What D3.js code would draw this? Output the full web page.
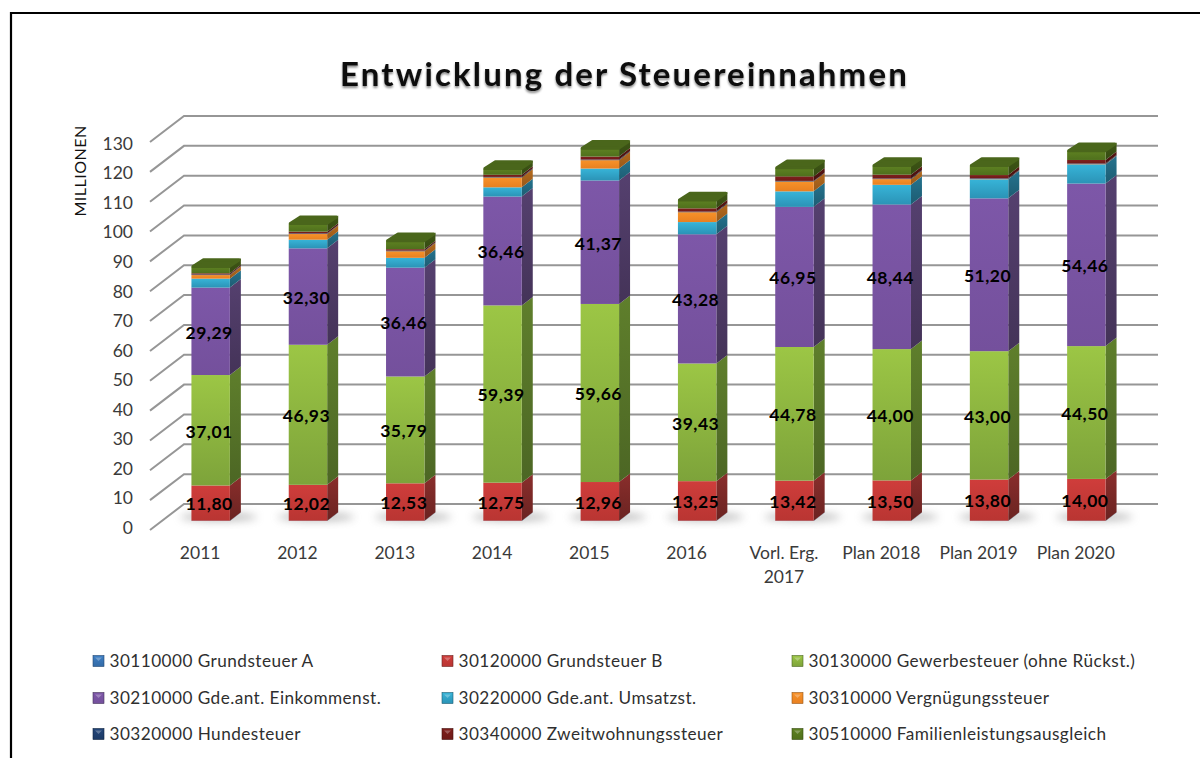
<!DOCTYPE html>
<html><head><meta charset="utf-8">
<style>html,body{margin:0;padding:0;background:#fff}svg{display:block}text{font-family:Lato,"Open Sans",sans-serif}</style>
<script src="https://cdn.jsdelivr.net/npm/d3@7"></script></head>
<body><div id="c"></div>
<script>
const categories=["2011","2012","2013","2014","2015","2016","Vorl. Erg.\n2017","Plan 2018","Plan 2019","Plan 2020"];
const grundsteuerA=[0.1,0.1,0.1,0.1,0.1,0.1,0.1,0.1,0.1,0.1];
const grundsteuerB=[11.80,12.02,12.53,12.75,12.96,13.25,13.42,13.50,13.80,14.00];
const gewerbesteuer=[37.01,46.93,35.79,59.39,59.66,39.43,44.78,44.00,43.00,44.50];
const einkommenst=[29.29,32.30,36.46,36.46,41.37,43.28,46.95,48.44,51.20,54.46];
const umsatzst=[3.0,2.9,3.3,3.1,4.0,4.1,5.2,6.6,6.4,6.4];
const vergnuegung=[1.2,1.9,2.2,3.3,2.8,3.3,3.3,1.9,0.1,0.1];
const hundesteuer=[0.2,0.2,0.2,0.2,0.2,0.2,0.2,0.2,0.2,0.2];
const zweitwohnung=[0.4,0.6,0.5,0.7,1.0,1.1,1.5,1.3,1.1,1.2];
const familien=[2.2,2.6,2.7,2.0,2.7,2.7,2.8,3.0,3.1,3.0];
const seriesNames=["30110000 Grundsteuer A","30120000 Grundsteuer B","30130000 Gewerbesteuer (ohne Rückst.)","30210000 Gde.ant. Einkommenst.","30220000 Gde.ant. Umsatzst.","30310000 Vergnügungssteuer","30320000 Hundesteuer","30340000 Zweitwohnungssteuer","30510000 Familienleistungsausgleich"];
const seriesValues=[grundsteuerA,grundsteuerB,gewerbesteuer,einkommenst,umsatzst,vergnuegung,hundesteuer,zweitwohnung,familien];
const labelled=[1,2,3];
const frontLight=["#3f7fc4","#cf3d3b","#9cc645","#7d57a8","#37b4d8","#f7922a","#23467a","#7f1f1c","#5e8122"];
const frontDark=["#336aa6","#b93532","#7da33a","#74509c","#2b93b6","#e88020","#1c3a66","#6e1a18","#4f701c"];
const sideLight=["#2a5688","#8a2e2c","#5f7f2c","#55406f","#25738e","#b56b1e","#152c4e","#591614","#3f5716"];
const sideDark=["#224670","#6a2321","#4c6624","#443358","#1d5c72","#96581a","#102340","#45110f","#354a12"];
const ticks=d3.range(0,131,10);

const W=1200,H=758;
const svg=d3.select("#c").append("svg").attr("width",W).attr("height",H);
const defs=svg.append("defs");
function grad(id,a,b){const g=defs.append("linearGradient").attr("id",id).attr("x1",0).attr("y1",0).attr("x2",0).attr("y2",1);
 g.append("stop").attr("offset","0%").attr("stop-color",a);g.append("stop").attr("offset","100%").attr("stop-color",b);}
seriesNames.forEach((_,i)=>{grad("f"+i,frontLight[i],frontDark[i]);grad("s"+i,sideLight[i],sideDark[i]);});
defs.append("filter").attr("id","blur").attr("x","-30%").attr("y","-100%").attr("width","160%").attr("height","300%").append("feGaussianBlur").attr("stdDeviation","4.5");
const ts=defs.append("filter").attr("id","tshadow").attr("x","-5%").attr("y","-20%").attr("width","110%").attr("height","150%");
ts.append("feDropShadow").attr("dx",0).attr("dy",2).attr("stdDeviation",1.2).attr("flood-color","#000").attr("flood-opacity",0.45);

// frame
svg.append("path").attr("d",`M11,${H}V13H${W}`).attr("fill","none").attr("stroke","#000").attr("stroke-width",2.2);

const y=d3.scaleLinear().domain([0,130]).range([530,142]);
const yLabel=d3.scaleLinear().domain([0,130]).range([527,143]);
const x=d3.scaleBand().domain(categories).range([150,1123]).paddingInner(0.605).paddingOuter(0.3025);
const wall={dx:34,dy:-26}, barOff={dx:12,dy:-9}, barDepth={dx:11,dy:-8.5};

// gridlines
const line=d3.line();
svg.append("g").selectAll("path").data(ticks).join("path")
 .attr("d",t=>line([[150,y(t)],[150+wall.dx,y(t)+wall.dy],[1158,y(t)+wall.dy]]))
 .attr("fill","none").attr("stroke","#969696").attr("stroke-width",2);

// stack
const rows=categories.map((c,i)=>{const r={cat:c};seriesNames.forEach((s,j)=>r[s]=seriesValues[j][i]);return r;});
const stacked=d3.stack().keys(seriesNames)(rows);
const bw=x.bandwidth();
const fx=c=>x(c)+barOff.dx, fy=v=>y(v)+barOff.dy;

// floor shadows
svg.append("g").selectAll("ellipse").data(categories).join("ellipse")
 .attr("cx",c=>fx(c)+bw/2+8).attr("cy",fy(0)-4).attr("rx",bw*1.0).attr("ry",4)
 .attr("fill","#777").attr("opacity",0.5).attr("filter","url(#blur)");

// bars
const bars=svg.append("g");
categories.forEach((c,ci)=>{
 const g=bars.append("g");
 stacked.forEach((ser,si)=>{
  const [v0,v1]=ser[ci];
  const xl=fx(c),xr=xl+bw,y0=fy(v0),y1=fy(v1),h=y0-y1;
  g.append("path").attr("d",line([[xr,y1],[xr+barDepth.dx,y1+barDepth.dy],[xr+barDepth.dx,y0+barDepth.dy],[xr,y0]])+"Z")
   .attr("fill",`url(#s${si})`);
  g.append("rect").attr("x",xl).attr("y",y1).attr("width",bw).attr("height",Math.max(h,0)).attr("fill",`url(#f${si})`);
 });
 const top=fy(stacked[stacked.length-1][ci][1]),xl=fx(c),xr=xl+bw;
 g.append("path").attr("d",line([[xl+1.5,top-0.3],[xl+barDepth.dx+1,top+barDepth.dy+1.5],[xr+barDepth.dx-1.5,top+barDepth.dy+1.5],[xr-0.5,top-0.3]])+"Z")
  .attr("fill","#4a661b").attr("stroke","#4a661b").attr("stroke-width",3).attr("stroke-linejoin","round");
});

// data labels
const lab=svg.append("g");
labelled.forEach(si=>{
 categories.forEach((c,ci)=>{
  const [v0,v1]=stacked[si][ci];
  lab.append("text").attr("x",fx(c)+bw/2-1.5).attr("y",fy((v0+v1)/2)+1).attr("dy","0.36em").attr("text-anchor","middle")
   .attr("font-size",17.5).attr("font-weight",700).attr("fill","#000").attr("letter-spacing",0.5)
   .text(d3.format(".2f")(seriesValues[si][ci]).replace(".",","));
 });
});

// y axis
const ya=svg.append("g").attr("transform","translate(133,0)").call(d3.axisLeft(yLabel).tickValues(ticks).tickSize(0).tickPadding(0));
ya.select(".domain").remove();
ya.selectAll("text").attr("font-size",17.5).attr("fill","#3a3a3a").style("font-family","Lato,sans-serif").attr("dy","0.36em");

svg.append("text").attr("transform","translate(86,171) rotate(-90)").attr("text-anchor","middle")
 .attr("font-size",16).attr("fill","#111").attr("letter-spacing",0.5).text("MILLIONEN");

// x labels
const xa=svg.append("g").selectAll("text").data(categories).join("text")
 .attr("text-anchor","middle").attr("font-size",17.5).attr("fill","#3a3a3a");
xa.each(function(c){
 const t=d3.select(this),cx=x(c)+bw/2+1.5;
 c.split("\n").forEach((s,i)=>t.append("tspan").attr("x",cx).attr("y",559+i*24).text(s));
});

// title
svg.append("text").attr("x",624.5).attr("y",86).attr("text-anchor","middle").attr("font-size",33).attr("font-weight",700)
 .attr("letter-spacing",2.15).attr("fill","#111").attr("filter","url(#tshadow)").text("Entwicklung der Steuereinnahmen");

// legend
const legX=[93,442,792],legY=[661,698,734];
const leg=svg.append("g").selectAll("g").data(seriesNames).join("g")
 .attr("transform",(d,i)=>`translate(${legX[i%3]},${legY[Math.floor(i/3)]})`);
leg.append("rect").attr("x",0).attr("y",-5.5).attr("width",11).attr("height",11).attr("fill",(d,i)=>`url(#f${i})`).attr("stroke",(d,i)=>sideDark[i]).attr("stroke-width",0.6);
leg.append("path").attr("d","M2,-3.5H9L5.5,0Z").attr("fill","#fff").attr("opacity",0.28);
leg.append("text").attr("x",16.5).attr("dy","0.36em").attr("font-size",17.2).attr("letter-spacing",0.45).attr("fill","#2f2f2f").text(d=>d);
</script></body></html>
